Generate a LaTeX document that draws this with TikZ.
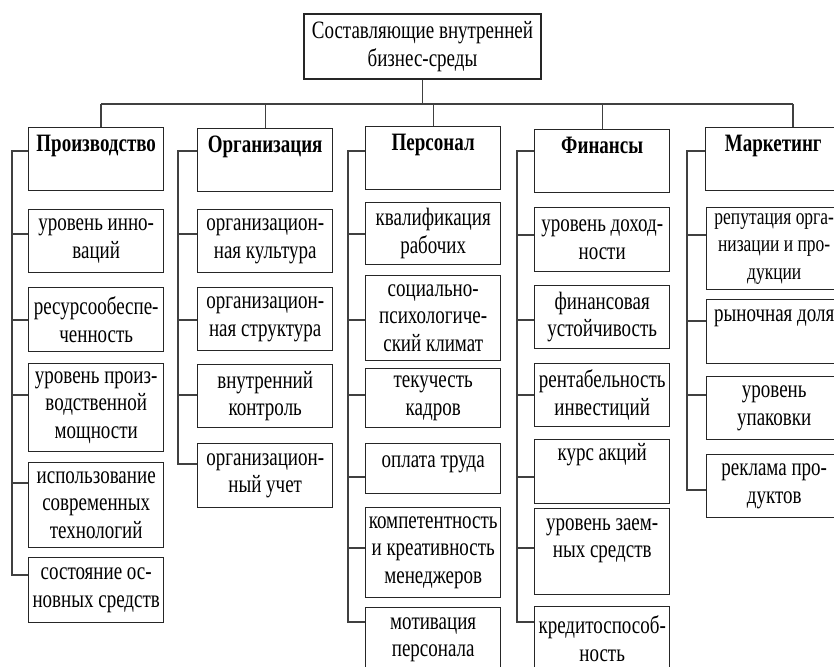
\documentclass[tikz,border=0pt]{standalone}
\usepackage{fontspec}
\setmainfont[FakeStretch=0.76]{Liberation Serif}
\usepackage{tikz}
\usetikzlibrary{calc}

\tikzset{
	cadre/.style={draw=black!85, line width=1.4pt, minimum width=135pt, align=center, anchor=north west, inner sep=2pt, font=\fontsize{25}{27.5}\selectfont},
	entete/.style={cadre, font=\fontsize{25}{27.5}\selectfont\bfseries, text height=22pt, text depth=37pt},
	lien/.style={draw=black!75, line width=1.4pt}
}

\begin{document}
\begin{tikzpicture}[x=1pt, y=-1pt]
	\useasboundingbox (0,0) rectangle (834,666);
	\clip (0,0) rectangle (834,666);
%					Cadre du haut :
					\node[cadre, anchor=center, minimum width=237pt, minimum height=65pt] (env) at (422.5,46.5) {Составляющие внутренней\\бизнес-среды};
%					Cadres des rubriques :
					\node[entete] (prod) at (28,127) {Производство};
					\node[entete] (org) at (197,128) {Организация};
					\node[entete] (pers) at (365,126) {Персонал};
					\node[entete] (fin) at (534,129) {Финансы};
					\node[entete] (mark) at (705,127) {Маркетинг};
%					Производство :
					\node[cadre, minimum height=63pt] (prod1) at (28,209) {уровень инно-\\ваций};
					\node[cadre, minimum height=64pt] (prod2) at (28,287) {ресурсообеспе-\\ченность};
					\node[cadre, minimum height=88pt] (prod3) at (28,363) {уровень произ-\\водственной\\мощности};
					\node[cadre, minimum height=85pt] (prod4) at (28,462) {использование\\современных\\технологий};
					\node[cadre, minimum height=65pt] (prod5) at (28,557) {состояние ос-\\новных средств};
%					Организация :
					\node[cadre, minimum height=63pt] (org1) at (197,209) {организацион-\\ная культура};
					\node[cadre, minimum height=63pt] (org2) at (197,287) {организацион-\\ная структура};
					\node[cadre, minimum height=63pt] (org3) at (197,364) {внутренний\\контроль};
					\node[cadre, minimum height=64pt] (org4) at (197,443) {организацион-\\ный учет};
%					Персонал :
					\node[cadre, minimum height=62pt] (pers1) at (365,202) {квалификация\\рабочих};
					\node[cadre, minimum height=85pt] (pers2) at (365,275) {социально-\\психологиче-\\ский климат};
					\node[cadre, minimum height=59pt] (pers3) at (365,368) {текучесть\\кадров};
					\node[cadre, text height=22pt, text depth=24pt] (pers4) at (365,443) {оплата труда};
					\node[cadre, minimum height=90pt] (pers5) at (365,507) {компетентность\\и креативность\\менеджеров};
					\node[cadre, minimum height=64pt] (pers6) at (365,607) {мотивация\\персонала};
%					Финансы :
					\node[cadre, minimum height=64pt] (fin1) at (534,207) {уровень доход-\\ности};
					\node[cadre, minimum height=63pt] (fin2) at (534,285) {финансовая\\устойчивость};
					\node[cadre, minimum height=63pt] (fin3) at (534,363) {рентабельность\\инвестиций};
					\node[cadre, text height=19pt, text depth=41pt] (fin4) at (534,439) {курс акций};
					\node[cadre, minimum height=86pt] (fin5) at (534,508) {уровень заем-\\ных средств\\~};
					\node[cadre, minimum height=64pt] (fin6) at (534,606) {кредитоспособ-\\ность};
%					Маркетинг :
					\node[cadre, minimum height=82pt, font=\fontsize{23}{27.5}\selectfont] (mark1) at (706,207) {репутация орга-\\низации и про-\\дукции};
					\node[cadre, text height=20pt, text depth=40pt] (mark2) at (706,299) {рыночная доля};
					\node[cadre, minimum height=63pt] (mark3) at (706,376) {уровень\\упаковки};
					\node[cadre, minimum height=63pt] (mark4) at (706,454) {реклама про-\\дуктов};
%					Tracé de la barre du haut :
					\coordinate (busL) at (101,104);
					\coordinate (busR) at (793,104);
					\draw[lien] (env.south) -- (env.south |- busL);
					\draw[lien] (busL) -- (busR);
					\draw[lien] (busL) -- (busL |- prod.north);
					\draw[lien] (org.north |- busL) -- (org.north);
					\draw[lien] (pers.north |- busL) -- (pers.north);
					\draw[lien] (fin.north |- busL) -- (fin.north);
					\draw[lien] (busR) -- (busR |- mark.north);
%					Tracé des colonnes :
					\draw[lien] ([yshift=-24pt]prod.north west) -- ++(-16,0) |- ([yshift=-18pt]prod5.north west);
					\draw[lien] ([yshift=-25pt]prod1.north west) -- ++(-16,0);
					\draw[lien] ([yshift=-33pt]prod2.north west) -- ++(-16,0);
					\draw[lien] ([yshift=-32pt]prod3.north west) -- ++(-16,0);
					\draw[lien] ([yshift=-21pt]prod4.north west) -- ++(-16,0);
					\draw[lien] ([yshift=-23pt]org.north west) -- ++(-19,0) |- ([yshift=-21pt]org4.north west);
					\draw[lien] ([yshift=-25pt]org1.north west) -- ++(-19,0);
					\draw[lien] ([yshift=-33pt]org2.north west) -- ++(-19,0);
					\draw[lien] ([yshift=-31pt]org3.north west) -- ++(-19,0);
					\draw[lien] ([yshift=-25pt]pers.north west) -- ++(-17,0) |- ([yshift=-15pt]pers6.north west);
					\draw[lien] ([yshift=-32pt]pers1.north west) -- ++(-17,0);
					\draw[lien] ([yshift=-45pt]pers2.north west) -- ++(-17,0);
					\draw[lien] ([yshift=-27pt]pers3.north west) -- ++(-17,0);
					\draw[lien] ([yshift=-34pt]pers4.north west) -- ++(-17,0);
					\draw[lien] ([yshift=-41pt]pers5.north west) -- ++(-17,0);
					\draw[lien] ([yshift=-22pt]fin.north west) -- ++(-17,0) |- ([yshift=-16pt]fin6.north west);
					\draw[lien] ([yshift=-28pt]fin1.north west) -- ++(-17,0);
					\draw[lien] ([yshift=-35pt]fin2.north west) -- ++(-17,0);
					\draw[lien] ([yshift=-32pt]fin3.north west) -- ++(-17,0);
					\draw[lien] ([yshift=-38pt]fin4.north west) -- ++(-17,0);
					\draw[lien] ([yshift=-40pt]fin5.north west) -- ++(-17,0);
					\draw[lien] ([yshift=-24pt]mark.north west) -- ++(-18,0) |- ([yshift=-36pt]mark4.north west);
					\draw[lien] ([yshift=-28pt]mark1.north west) -- ++(-19,0);
					\draw[lien] ([yshift=-22pt]mark2.north west) -- ++(-19,0);
					\draw[lien] ([yshift=-19pt]mark3.north west) -- ++(-19,0);
				\end{tikzpicture}
\end{document}
